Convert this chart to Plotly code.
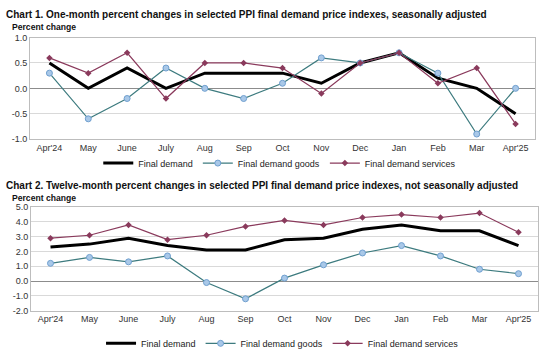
import plotly.graph_objects as go

months = ["Apr'24", "May", "June", "July", "Aug", "Sep", "Oct", "Nov", "Dec", "Jan", "Feb", "Mar", "Apr'25"]

# Chart 1: one-month percent changes, seasonally adjusted
m_final = [0.5, 0.0, 0.4, 0.0, 0.3, 0.3, 0.3, 0.1, 0.5, 0.7, 0.2, 0.0, -0.5]
m_goods = [0.3, -0.6, -0.2, 0.4, 0.0, -0.2, 0.1, 0.6, 0.5, 0.7, 0.3, -0.9, 0.0]
m_services = [0.6, 0.3, 0.7, -0.2, 0.5, 0.5, 0.4, -0.1, 0.5, 0.7, 0.1, 0.4, -0.7]
m_ticks = [-1.0, -0.5, 0.0, 0.5, 1.0]
m_ticklabels = ["-1.0", "-0.5", "0.0", "0.5", "1.0"]

# Chart 2: twelve-month percent changes, not seasonally adjusted
y_final = [2.3, 2.5, 2.9, 2.4, 2.1, 2.1, 2.8, 2.9, 3.5, 3.8, 3.4, 3.4, 2.4]
y_goods = [1.2, 1.6, 1.3, 1.7, -0.1, -1.2, 0.2, 1.1, 1.9, 2.4, 1.7, 0.8, 0.5]
y_services = [2.9, 3.1, 3.8, 2.8, 3.1, 3.7, 4.1, 3.8, 4.3, 4.5, 4.3, 4.6, 3.3]
y_ticks = [-2.0, -1.0, 0.0, 1.0, 2.0, 3.0, 4.0, 5.0]
y_ticklabels = ["-2.0", "-1.0", "0.0", "1.0", "2.0", "3.0", "4.0", "5.0"]

titles = [
    "Chart 1. One-month percent changes in selected PPI final demand price indexes, seasonally adjusted",
    "Chart 2. Twelve-month percent changes in selected PPI final demand price indexes, not seasonally adjusted",
]

W, H = 554, 358
FONT = "Liberation Sans, Arial, sans-serif"
C_FINAL = "#000000"
C_GOODS = "#3d7b7f"
C_GOODS_M = "#a9c8e8"
C_GOODS_ML = "#6f9fcf"
C_SERV = "#8a3a5c"

fig = go.Figure()

def add_series(final, goods, services, xa, ya, legend):
    fig.add_trace(go.Scatter(x=months, y=final, name="Final demand", mode="lines",
                             line=dict(color=C_FINAL, width=3), xaxis=xa, yaxis=ya, legend=legend))
    fig.add_trace(go.Scatter(x=months, y=goods, name="Final demand goods", mode="lines+markers",
                             line=dict(color=C_GOODS, width=1.2),
                             marker=dict(symbol="circle", size=6, color=C_GOODS_M,
                                         line=dict(color=C_GOODS_ML, width=1)),
                             xaxis=xa, yaxis=ya, legend=legend))
    fig.add_trace(go.Scatter(x=months, y=services, name="Final demand services", mode="lines+markers",
                             line=dict(color=C_SERV, width=1.2),
                             marker=dict(symbol="diamond", size=5, color=C_SERV),
                             xaxis=xa, yaxis=ya, legend=legend))

add_series(m_final, m_goods, m_services, "x", "y", "legend")
add_series(y_final, y_goods, y_services, "x2", "y2", "legend2")

def px_x(p):
    return p / W

def px_y(p):
    return 1 - p / H

axis_common = dict(showline=True, linecolor="#bdbdbd", linewidth=1, mirror=True,
                   tickfont=dict(family=FONT, size=9, color="#333333"), ticks="")

fig.update_layout(
    width=W, height=H,
    margin=dict(l=0, r=0, t=0, b=0),
    paper_bgcolor="white", plot_bgcolor="white",
    font=dict(family=FONT, size=9, color="#222222"),
    xaxis=dict(domain=[px_x(30), px_x(535)], anchor="y", type="category",
               range=[-0.5, 12.5], showgrid=False, **axis_common),
    yaxis=dict(domain=[px_y(140), px_y(34)], anchor="x", range=[-1, 1],
               tickvals=m_ticks, ticktext=m_ticklabels,
               showgrid=True, gridcolor="#d9d9d9", gridwidth=1,
               zeroline=True, zerolinecolor="#8c8c8c", zerolinewidth=1, **axis_common),
    xaxis2=dict(domain=[px_x(31), px_x(538)], anchor="y2", type="category",
                range=[-0.5, 12.5], showgrid=False, **axis_common),
    yaxis2=dict(domain=[px_y(319), px_y(211)], anchor="x2", range=[-2, 5],
                tickvals=y_ticks, ticktext=y_ticklabels,
                showgrid=True, gridcolor="#d9d9d9", gridwidth=1,
                zeroline=True, zerolinecolor="#8c8c8c", zerolinewidth=1, **axis_common),
    legend=dict(orientation="h", x=0.505, xanchor="center", y=px_y(165), yanchor="middle",
                font=dict(family=FONT, size=9, color="#222222"), bgcolor="rgba(0,0,0,0)",
                itemwidth=30, tracegroupgap=0),
    legend2=dict(orientation="h", x=0.51, xanchor="center", y=px_y(338), yanchor="top",
                 font=dict(family=FONT, size=9, color="#222222"), bgcolor="rgba(0,0,0,0)",
                 itemwidth=30, tracegroupgap=0),
    showlegend=True,
)

annos = [
    dict(text="<b>" + titles[0] + "</b>", x=px_x(4), y=px_y(10), size=10),
    dict(text="<b>Percent change</b>", x=px_x(10), y=px_y(23), size=8.6),
    dict(text="<b>" + titles[1] + "</b>", x=px_x(4), y=px_y(188), size=10),
    dict(text="<b>Percent change</b>", x=px_x(10), y=px_y(201), size=8.6),
]
for a in annos:
    fig.add_annotation(text=a["text"], x=a["x"], y=a["y"], xref="paper", yref="paper",
                       xanchor="left", yanchor="middle", showarrow=False,
                       font=dict(family=FONT, size=a["size"], color="#111111"))

fig.write_html("out.html", config={"displayModeBar": False},
               post_script="document.body.style.margin='0';document.body.style.padding='0';")
